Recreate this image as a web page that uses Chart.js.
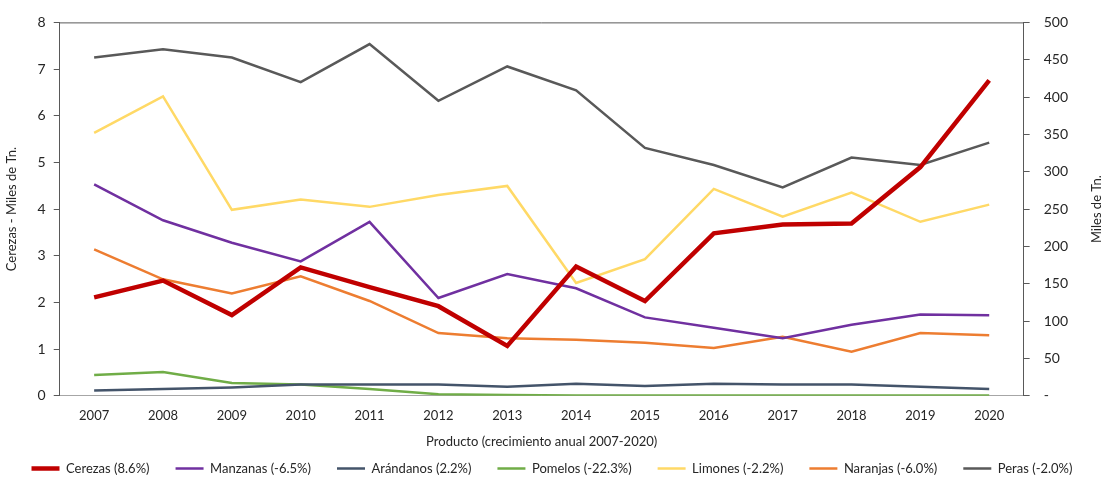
<!DOCTYPE html>
<html lang="es">
<head>
<meta charset="utf-8">
<title>Producción de frutas 2007-2020</title>
<script src="https://cdn.jsdelivr.net/npm/chart.js@4"></script>
<style>
    html, body { margin: 0; padding: 0; background: #ffffff; }
    #wrap { width: 1104px; height: 481px; }
</style>
</head>
<body>
<div id="wrap"><canvas id="fruit-chart"></canvas></div>
<script>
/* ---------- Data ---------- */
const years = ["2007", "2008", "2009", "2010", "2011", "2012", "2013",
               "2014", "2015", "2016", "2017", "2018", "2019", "2020"];

// left axis (miles de Tn.)
const cerezas   = [2.11, 2.47, 1.73, 2.75, 2.33, 1.92, 1.07, 2.77, 2.03, 3.48, 3.67, 3.69, 4.90, 6.76];

// right axis (miles de Tn.)
const manzanas  = [283, 235, 205, 180, 233, 131, 163, 144, 105, 91, 77, 95, 109, 108];
const arandanos = [7, 9, 11, 15, 15, 15, 12, 16, 13, 16, 15, 15, 12, 9];
const pomelos   = [28, 32, 17, 15, 9, 2, 1, 0.5, 0.5, 0.5, 0.5, 0.5, 0.5, 0.5];
const limones   = [352, 401, 249, 263, 253, 269, 281, 151, 183, 277, 240, 272, 233, 256];
const naranjas  = [196, 156, 137, 160, 127, 84, 77, 75, 71, 64, 79, 59, 84, 81];
const peras     = [453, 464, 453, 420, 471, 395, 441, 409, 332, 309, 279, 319, 309, 339];

const leftTicks  = [0, 1, 2, 3, 4, 5, 6, 7, 8];
const rightTicks = [0, 50, 100, 150, 200, 250, 300, 350, 400, 450, 500];

/* ---------- Styles ---------- */
const FONT = "Lato";
const TEXT = "#262626";
const AXIS = "#595959";

function series(label, data, color, width, axis) {
    return {
        label,
        data,
        borderColor: color,
        backgroundColor: color,
        borderWidth: width,
        pointRadius: 0,
        pointHoverRadius: 0,
        tension: 0,
        yAxisID: axis
    };
}

// line along the top of the plot area, closing the frame
const topBorder = {
    id: "topBorder",
    afterDraw(chart) {
        const { ctx, chartArea } = chart;
        ctx.save();
        ctx.strokeStyle = AXIS;
        ctx.lineWidth = 1;
        ctx.beginPath();
        ctx.moveTo(chartArea.left, chartArea.top + 0.5);
        ctx.lineTo(chartArea.right, chartArea.top + 0.5);
        ctx.stroke();
        ctx.restore();
    }
};

// right axis title, read bottom-to-top like the left one
const rightTitle = {
    id: "rightTitle",
    afterDraw(chart) {
        const { ctx, chartArea } = chart;
        ctx.save();
        ctx.translate(chart.width - 7, (chartArea.top + chartArea.bottom) / 2);
        ctx.rotate(-Math.PI / 2);
        ctx.fillStyle = TEXT;
        ctx.font = "13px " + FONT;
        ctx.textAlign = "center";
        ctx.textBaseline = "middle";
        ctx.fillText("Miles de Tn.", 0, 0);
        ctx.restore();
    }
};

/* ---------- Chart ---------- */
function initChart() {
    const ctx = document.getElementById("fruit-chart").getContext("2d");

    new Chart(ctx, {
        type: "line",
        data: {
            labels: years,
            datasets: [
                series("Cerezas (8.6%)", cerezas, "#C00000", 4.5, "y"),
                series("Manzanas (-6.5%)", manzanas, "#7030A0", 2.5, "y1"),
                series("Arándanos (2.2%)", arandanos, "#44546A", 2.5, "y1"),
                series("Pomelos (-22.3%)", pomelos, "#70AD47", 2.5, "y1"),
                series("Limones (-2.2%)", limones, "#FFD966", 2.5, "y1"),
                series("Naranjas (-6.0%)", naranjas, "#ED7D31", 2.5, "y1"),
                series("Peras (-2.0%)", peras, "#595959", 2.5, "y1")
            ]
        },
        options: {
            responsive: true,
            maintainAspectRatio: false,
            animation: false,
            // legend sits close to the bottom edge, so let its outer padding run off-canvas
            layout: { padding: { left: 4, right: 4, top: 18, bottom: -4 } },
            plugins: {
                legend: {
                    position: "bottom",
                    labels: {
                        usePointStyle: true,
                        pointStyle: "line",
                        pointStyleWidth: 28,
                        boxHeight: 13,
                        padding: 26,
                        color: TEXT,
                        font: { family: FONT, size: 13 }
                    }
                },
                tooltip: { enabled: false }
            },
            scales: {
                x: {
                    offset: true,
                    grid: { display: false, drawTicks: false },
                    border: { color: "#a6a6a6" },
                    ticks: { color: TEXT, padding: 12, font: { family: FONT, size: 13 } },
                    title: {
                        display: true,
                        text: "Producto (crecimiento anual 2007-2020)",
                        color: TEXT,
                        font: { family: FONT, size: 13 },
                        // pull the legend up under the title
                        padding: { top: -1, bottom: -14 }
                    }
                },
                y: {
                    position: "left",
                    min: 0,
                    max: 8,
                    afterBuildTicks: axis => { axis.ticks = leftTicks.map(v => ({ value: v })); },
                    grid: { drawOnChartArea: false, color: AXIS, tickColor: AXIS, tickLength: 6 },
                    border: { color: AXIS },
                    ticks: { color: TEXT, padding: 8, font: { family: FONT, size: 14 } },
                    title: {
                        display: true,
                        text: "Cerezas - Miles de Tn.",
                        color: TEXT,
                        font: { family: FONT, size: 13 },
                        padding: { top: 0, bottom: 10 }
                    }
                },
                y1: {
                    position: "right",
                    min: 0,
                    max: 500,
                    afterBuildTicks: axis => { axis.ticks = rightTicks.map(v => ({ value: v })); },
                    // room for the hand-drawn axis title
                    afterFit: axis => { axis.width += 18; },
                    grid: { drawOnChartArea: false, color: AXIS, tickColor: AXIS, tickLength: 6 },
                    border: { color: AXIS },
                    ticks: {
                        color: TEXT,
                        padding: 14,
                        font: { family: FONT, size: 14 },
                        callback: v => (v === 0 ? "-" : v)
                    }
                }
            }
        },
        plugins: [topBorder, rightTitle]
    });
}

document.addEventListener("DOMContentLoaded", initChart);
</script>
</body>
</html>
